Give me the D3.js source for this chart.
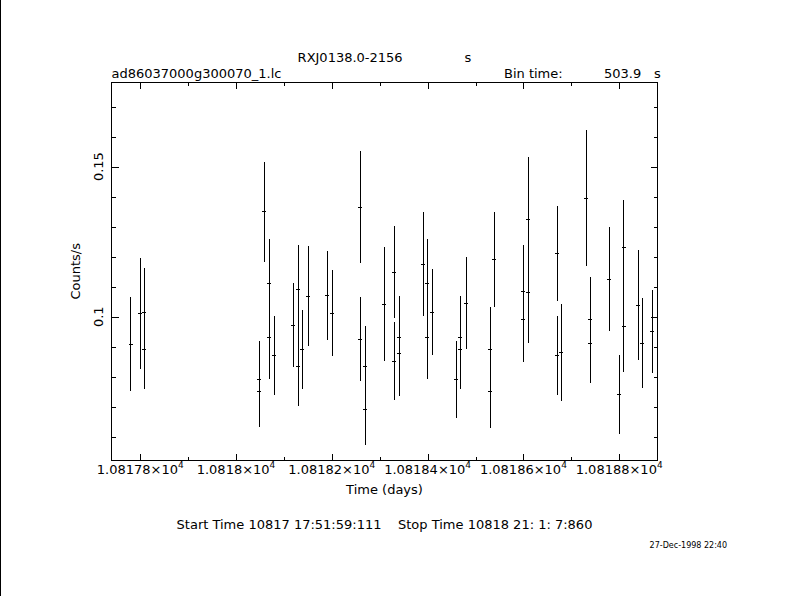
<!DOCTYPE html>
<html>
<head>
<meta charset="utf-8">
<script src="https://cdn.jsdelivr.net/npm/d3@7"></script>
<style>
html,body{margin:0;padding:0;background:#fff;}
svg{display:block;}
text{font-family:"DejaVu Sans",sans-serif;fill:#000;}
</style>
</head>
<body>
<svg id="chart" width="790" height="596"></svg>
<script>
// ---- data ----
const times = [10817.7800, 10817.8000, 10817.8084, 10817.8084, 10818.0484, 10818.0484, 10818.0589, 10818.0693, 10818.0693, 10818.0797,
  10818.1194, 10818.1299, 10818.1299, 10818.1382, 10818.1507, 10818.1904, 10818.2008, 10818.2593, 10818.2593, 10818.2697,
  10818.2697, 10818.3094, 10818.3303, 10818.3303, 10818.3407, 10818.3407, 10818.3908, 10818.3992, 10818.3992, 10818.4096,
  10818.4597, 10818.4681, 10818.4681, 10818.4806, 10818.5307, 10818.5307, 10818.5390, 10818.5996, 10818.5996, 10818.6100,
  10818.6100, 10818.6706, 10818.6706, 10818.6789, 10818.7311, 10818.7395, 10818.7395, 10818.7791, 10818.8000, 10818.8092,
  10818.8092, 10818.8397, 10818.8480, 10818.8689];
const rates = [0.0908, 0.1010, 0.1015, 0.0891, 0.0791, 0.0751, 0.1349, 0.1111, 0.0931, 0.0871,
  0.0971, 0.1091, 0.0835, 0.0891, 0.1068, 0.1071, 0.1011, 0.1365, 0.0925, 0.0835,
  0.0691, 0.1041, 0.1148, 0.0851, 0.0931, 0.0878, 0.1175, 0.1111, 0.0931, 0.1015,
  0.0791, 0.0931, 0.0891, 0.1045, 0.0891, 0.0751, 0.1191, 0.1085, 0.0991, 0.1325,
  0.1081, 0.1211, 0.0871, 0.0881, 0.1395, 0.0991, 0.0911, 0.1125, 0.0741, 0.1231,
  0.0968, 0.1038, 0.0911, 0.0951];
const errors = [0.0157, 0.0185, 0.0147, 0.0133, 0.0127, 0.0120, 0.0166, 0.0147, 0.0137, 0.0133,
  0.0140, 0.0147, 0.0133, 0.0133, 0.0167, 0.0147, 0.0143, 0.0187, 0.0140, 0.0133,
  0.0117, 0.0190, 0.0153, 0.0130, 0.0137, 0.0143, 0.0173, 0.0147, 0.0140, 0.0143,
  0.0127, 0.0137, 0.0133, 0.0153, 0.0143, 0.0123, 0.0157, 0.0153, 0.0143, 0.0207,
  0.0167, 0.0157, 0.0133, 0.0163, 0.0227, 0.0140, 0.0133, 0.0173, 0.0133, 0.0157,
  0.0153, 0.0183, 0.0150, 0.0137];

const xDomain = [10817.740, 10818.880];
const yDomain = [0.0521, 0.1782];
const xMajorTicks = [10817.8, 10818.0, 10818.2, 10818.4, 10818.6, 10818.8];
const xMinorTicks = [10817.9, 10818.1, 10818.3, 10818.5, 10818.7];
const xTickLabels = ["1.08178", "1.0818", "1.08182", "1.08184", "1.08186", "1.08188"];
const yMajorTicks = [0.1, 0.15];
const yMinorTicks = [0.06, 0.07, 0.08, 0.09, 0.11, 0.12, 0.13, 0.14, 0.16, 0.17];
const yTickLabels = ["0.1", "0.15"];

const titleText = "RXJ0138.0-2156               s";
const fileText = "ad86037000g300070_1.lc";
const binLabel = "Bin time:";
const binValue = "503.9";
const binUnit = "s";
const xLabel = "Time (days)";
const yLabel = "Counts/s";
const footerText = "Start Time 10817 17:51:59:111    Stop Time 10818 21: 1: 7:860";
const dateText = "27-Dec-1998 22:40";

// ---- layout ----
const L = 111.5, R = 657.5, T = 82, B = 460.5;
const svg = d3.select("#chart");
svg.append("rect").attr("width", 790).attr("height", 596).attr("fill", "#fff");
svg.append("line").attr("x1", 0.5).attr("x2", 0.5).attr("y1", 0).attr("y2", 596)
  .attr("stroke", "#000").attr("stroke-width", 1);

const x = d3.scaleLinear().domain(xDomain).range([L, R]);
const y = d3.scaleLinear().domain(yDomain).range([B, T]);

const MAJ = 7, MIN = 4;
function axisGroup(axis, tx, ty) {
  const g = svg.append("g").attr("transform", `translate(${tx},${ty})`).call(axis);
  g.select(".domain").remove();
  g.selectAll("line").attr("stroke", "#000").attr("shape-rendering", "crispEdges");
  g.selectAll("text").remove();
  return g;
}
// bottom & top (ticks pointing inward)
axisGroup(d3.axisBottom(x).tickValues(xMajorTicks).tickSize(-MAJ).tickFormat(""), 0, B);
axisGroup(d3.axisBottom(x).tickValues(xMinorTicks).tickSize(-MIN).tickFormat(""), 0, B);
axisGroup(d3.axisTop(x).tickValues(xMajorTicks).tickSize(-MAJ).tickFormat(""), 0, T);
axisGroup(d3.axisTop(x).tickValues(xMinorTicks).tickSize(-MIN).tickFormat(""), 0, T);
// left & right
axisGroup(d3.axisLeft(y).tickValues(yMajorTicks).tickSize(-MAJ).tickFormat(""), L, 0);
axisGroup(d3.axisLeft(y).tickValues(yMinorTicks).tickSize(-MIN).tickFormat(""), L, 0);
axisGroup(d3.axisRight(y).tickValues(yMajorTicks).tickSize(-MAJ).tickFormat(""), R, 0);
axisGroup(d3.axisRight(y).tickValues(yMinorTicks).tickSize(-MIN).tickFormat(""), R, 0);

// frame
svg.append("rect").attr("x", L).attr("y", T + 0.5).attr("width", R - L).attr("height", B - T - 0.5)
  .attr("fill", "none").attr("stroke", "#000").attr("stroke-width", 1).attr("shape-rendering", "crispEdges");

// x tick labels
xMajorTicks.forEach((v, i) => {
  const t = svg.append("text").attr("x", x(v)).attr("y", 474).attr("text-anchor", "middle")
    .attr("font-size", 13);
  t.append("tspan").text(xTickLabels[i] + "\u00d710");
  t.append("tspan").attr("font-size", 9).attr("dy", -6).text("4");
});
// y tick labels (rotated)
yMajorTicks.forEach((v, i) => {
  svg.append("text").attr("transform", `translate(103,${y(v)}) rotate(-90)`)
    .attr("text-anchor", "middle").attr("font-size", 13).text(yTickLabels[i]);
});

// axis labels
svg.append("text").attr("x", (L + R) / 2).attr("y", 494).attr("text-anchor", "middle")
  .attr("font-size", 13).text(xLabel);
svg.append("text").attr("transform", `translate(80,${(T + B) / 2}) rotate(-90)`)
  .attr("text-anchor", "middle").attr("font-size", 13).text(yLabel);

// top labels
svg.append("text").attr("x", (L + R) / 2).attr("y", 62).attr("text-anchor", "middle")
  .attr("font-size", 13).attr("xml:space", "preserve").style("white-space", "pre").text(titleText);
svg.append("text").attr("x", L).attr("y", 78).attr("font-size", 13).text(fileText);
svg.append("text").attr("x", 504).attr("y", 78).attr("font-size", 13).text(binLabel);
svg.append("text").attr("x", 604).attr("y", 78).attr("font-size", 13).text(binValue);
svg.append("text").attr("x", 654).attr("y", 78).attr("font-size", 13).text(binUnit);

// footer
svg.append("text").attr("x", (L + R) / 2).attr("y", 529).attr("text-anchor", "middle")
  .attr("font-size", 13).style("white-space", "pre").text(footerText);
svg.append("text").attr("x", 727).attr("y", 548).attr("text-anchor", "end")
  .attr("font-size", 8).text(dateText);

// data: error bars
const pts = times.map((t, i) => ({t, r: rates[i], e: errors[i]}));
const g = svg.append("g").attr("stroke", "#000").attr("stroke-width", 1).attr("shape-rendering", "crispEdges");
g.selectAll("line.v").data(pts).enter().append("line").attr("class", "v")
  .attr("x1", d => x(d.t)).attr("x2", d => x(d.t))
  .attr("y1", d => y(d.r - d.e)).attr("y2", d => y(d.r + d.e));
g.selectAll("line.h").data(pts).enter().append("line").attr("class", "h")
  .attr("x1", d => x(d.t) - 2).attr("x2", d => x(d.t) + 2)
  .attr("y1", d => y(d.r)).attr("y2", d => y(d.r));
</script>
</body>
</html>
